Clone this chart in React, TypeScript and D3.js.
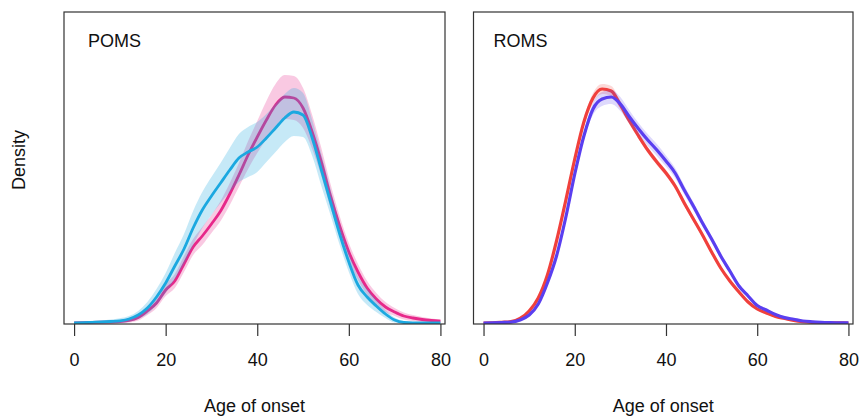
import * as d3 from "d3";
import { useEffect, useRef } from "react";

// age grid (years)
const ages = [0, 2, 4, 6, 8, 10, 12, 14, 16, 18, 20, 22, 24, 26, 28, 30, 32, 34, 36, 38, 40, 42, 44, 46, 48, 50, 52, 54, 56, 58, 60, 62, 64, 66, 68, 70, 72, 74, 76, 78, 80];
const xTicks = [0, 20, 40, 60, 80];

// density values in per mille (density x 1000)
// POMS panel
const pomsPinkMean = [0.02, 0.04, 0.06, 0.08, 0.1, 0.15, 0.25, 0.55, 1.2, 2.0, 3.3, 4.2, 5.9, 7.6, 8.7, 9.9, 11.2, 12.9, 14.8, 16.8, 18.6, 20.3, 21.8, 22.6, 22.5, 21.5, 19.1, 16.1, 12.7, 9.7, 7.1, 5.1, 3.5, 2.4, 1.6, 1.1, 0.7, 0.5, 0.35, 0.25, 0.18];
const pomsPinkUpper = [0.07, 0.09, 0.11, 0.15, 0.2, 0.3, 0.45, 0.85, 1.6, 2.5, 3.9, 4.9, 6.7, 8.4, 9.6, 10.8, 12.2, 14.0, 16.0, 18.2, 20.2, 22.2, 23.9, 24.8, 24.7, 23.5, 20.8, 17.5, 13.9, 10.7, 8.0, 5.9, 4.2, 3.0, 2.1, 1.5, 1.05, 0.8, 0.6, 0.45, 0.38];
const pomsPinkLower = [0, 0, 0.01, 0.01, 0, 0, 0.05, 0.25, 0.8, 1.5, 2.7, 3.5, 5.1, 6.8, 7.8, 9.0, 10.2, 11.8, 13.6, 15.4, 17.0, 18.4, 19.7, 20.4, 20.3, 19.5, 17.4, 14.7, 11.5, 8.7, 6.2, 4.3, 2.8, 1.8, 1.1, 0.7, 0.35, 0.2, 0.1, 0.05, 0];
const pomsBlueMean = [0.02, 0.04, 0.07, 0.1, 0.15, 0.22, 0.4, 0.8, 1.5, 2.6, 4.0, 5.7, 7.4, 9.5, 11.3, 12.7, 14.0, 15.3, 16.5, 17.1, 17.6, 18.5, 19.5, 20.5, 21.1, 20.8, 18.5, 15.3, 12.1, 8.9, 6.1, 3.8, 2.6, 1.7, 0.9, 0.3, 0.05, 0, 0, 0, 0];
const pomsBlueUpper = [0.12, 0.14, 0.22, 0.25, 0.35, 0.47, 0.7, 1.2, 2.1, 3.4, 5.0, 7.0, 8.9, 11.2, 13.1, 14.6, 16.0, 17.5, 18.9, 19.6, 20.1, 20.9, 21.9, 22.9, 23.5, 23.0, 20.3, 16.9, 13.4, 10.0, 7.1, 4.7, 3.4, 2.3, 1.3, 0.55, 0.2, 0.1, 0.05, 0.05, 0.05];
const pomsBlueLower = [0, 0, 0, 0, 0, 0, 0.1, 0.4, 0.9, 1.8, 3.0, 4.4, 5.9, 7.8, 9.5, 10.8, 12.0, 13.1, 14.1, 14.6, 15.1, 16.1, 17.1, 18.1, 18.7, 18.6, 16.7, 13.7, 10.8, 7.8, 5.1, 2.9, 1.8, 1.1, 0.5, 0.05, 0, 0, 0, 0, 0];

// ROMS panel
const romsRedMean = [0, 0.02, 0.07, 0.13, 0.45, 1.2, 2.5, 4.8, 8.2, 12.2, 16.4, 20.1, 22.5, 23.4, 23.2, 21.8, 20.2, 18.7, 17.3, 16.1, 15.0, 13.7, 12.0, 10.4, 8.8, 7.1, 5.5, 4.2, 3.1, 2.1, 1.4, 1.0, 0.65, 0.45, 0.25, 0.13, 0.07, 0.04, 0.02, 0.01, 0];
const romsRedUpper = [0.05, 0.07, 0.12, 0.2, 0.55, 1.35, 2.7, 5.0, 8.45, 12.5, 16.7, 20.5, 23.0, 23.9, 23.7, 22.2, 20.55, 19.0, 17.6, 16.4, 15.3, 14.0, 12.3, 10.7, 9.05, 7.35, 5.7, 4.4, 3.25, 2.25, 1.5, 1.1, 0.75, 0.53, 0.31, 0.18, 0.12, 0.09, 0.07, 0.06, 0.05];
const romsRedLower = [0, 0, 0.02, 0.06, 0.35, 1.05, 2.3, 4.6, 7.95, 11.9, 16.1, 19.7, 22.0, 22.9, 22.7, 21.4, 19.85, 18.4, 17.0, 15.8, 14.7, 13.4, 11.7, 10.1, 8.55, 6.85, 5.3, 4.0, 2.95, 1.95, 1.3, 0.9, 0.55, 0.37, 0.19, 0.08, 0.02, 0, 0, 0, 0];
const romsVioletMean = [0, 0.02, 0.05, 0.09, 0.3, 0.8, 1.9, 4.0, 6.7, 10.5, 14.9, 18.7, 21.4, 22.4, 22.6, 21.9, 20.6, 19.4, 18.3, 17.3, 16.2, 15.0, 13.3, 11.7, 10.0, 8.4, 6.7, 5.2, 3.7, 2.7, 1.75, 1.3, 0.85, 0.54, 0.37, 0.2, 0.12, 0.07, 0.04, 0.02, 0.01];
const romsVioletUpper = [0.05, 0.07, 0.1, 0.16, 0.4, 0.95, 2.1, 4.25, 6.95, 10.8, 15.2, 19.1, 22.0, 23.1, 23.3, 22.6, 21.25, 20.0, 18.9, 17.9, 16.75, 15.5, 13.75, 12.1, 10.35, 8.7, 7.0, 5.45, 3.9, 2.9, 1.9, 1.45, 0.95, 0.64, 0.45, 0.26, 0.17, 0.12, 0.09, 0.07, 0.06];
const romsVioletLower = [0, 0, 0, 0.02, 0.2, 0.65, 1.7, 3.75, 6.45, 10.2, 14.6, 18.3, 20.8, 21.7, 21.9, 21.2, 19.95, 18.8, 17.7, 16.7, 15.65, 14.5, 12.85, 11.3, 9.65, 8.1, 6.4, 4.95, 3.5, 2.5, 1.6, 1.15, 0.75, 0.44, 0.29, 0.14, 0.07, 0.02, 0, 0, 0];

const FONT = "'Liberation Sans', Arial, Helvetica, sans-serif";

const panels = [
  {
    id: "poms",
    title: "POMS",
    left: 64,
    right: 445,
    lineWidth: 2.8,
    series: [
      { mean: pomsPinkMean, upper: pomsPinkUpper, lower: pomsPinkLower, color: "#e7288a", alpha: 0.25 },
      { mean: pomsBlueMean, upper: pomsBlueUpper, lower: pomsBlueLower, color: "#1ba8e0", alpha: 0.25 },
    ],
  },
  {
    id: "roms",
    title: "ROMS",
    left: 473.5,
    right: 853,
    lineWidth: 3.2,
    series: [
      { mean: romsRedMean, upper: romsRedUpper, lower: romsRedLower, color: "#f0403c", alpha: 0.2 },
      { mean: romsVioletMean, upper: romsVioletUpper, lower: romsVioletLower, color: "#5a3ff0", alpha: 0.2 },
    ],
  },
];

const App = () => {
  const svgRef = useRef<SVGSVGElement>(null);

  useEffect(() => {
    const svg = d3.select(svgRef.current);
    svg.selectAll("*").remove();

    const top = 12;
    const bottom = 324;
    const yScale = d3.scaleLinear().domain([0, 31.1]).range([323, top]);

    panels.forEach((p) => {
      const xScale = d3.scaleLinear().domain([-2.2, 81.0]).range([p.left, p.right]);

      const clipId = `clip-${p.id}`;
      svg
        .append("clipPath")
        .attr("id", clipId)
        .append("rect")
        .attr("x", p.left)
        .attr("y", top)
        .attr("width", p.right - p.left)
        .attr("height", bottom - top);

      const g = svg.append("g").attr("clip-path", `url(#${clipId})`);

      p.series.forEach((s) => {
        const band = d3
          .area<number>()
          .x((d) => xScale(d))
          .y0((d, i) => yScale(s.lower[i]))
          .y1((d, i) => yScale(s.upper[i]))
          .curve(d3.curveMonotoneX);
        g.append("path")
          .attr("d", band(ages))
          .attr("fill", s.color)
          .attr("fill-opacity", s.alpha);

        const line = d3
          .line<number>()
          .x((d) => xScale(d))
          .y((d, i) => yScale(s.mean[i]))
          .curve(d3.curveMonotoneX);
        g.append("path")
          .attr("d", line(ages))
          .attr("fill", "none")
          .attr("stroke", s.color)
          .attr("stroke-width", p.lineWidth)
          .attr("stroke-linejoin", "round");
      });

      // box
      svg
        .append("rect")
        .attr("x", p.left)
        .attr("y", top)
        .attr("width", p.right - p.left)
        .attr("height", bottom - top)
        .attr("fill", "none")
        .attr("stroke", "#333")
        .attr("stroke-width", 1.2);

      // x axis
      const axis = svg
        .append("g")
        .attr("transform", `translate(0, ${bottom})`)
        .call(d3.axisBottom(xScale).tickValues(xTicks).tickSize(12).tickPadding(17).tickSizeOuter(0));
      axis.select(".domain").remove();
      axis.selectAll(".tick line").attr("stroke", "#333").attr("stroke-width", 1.2);
      axis
        .selectAll(".tick text")
        .attr("font-family", FONT)
        .attr("font-size", 18)
        .attr("fill", "#111");

      // x label
      svg
        .append("text")
        .attr("x", (p.left + p.right) / 2)
        .attr("y", 412)
        .attr("text-anchor", "middle")
        .attr("font-family", FONT)
        .attr("font-size", 18)
        .attr("fill", "#111")
        .text("Age of onset");

      // panel title
      svg
        .append("text")
        .attr("x", p.left + (p.id === "poms" ? 24 : 20))
        .attr("y", 47)
        .attr("font-family", FONT)
        .attr("font-size", 18)
        .attr("fill", "#111")
        .text(p.title);
    });

    // y label
    svg
      .append("text")
      .attr("transform", "translate(25, 160) rotate(-90)")
      .attr("text-anchor", "middle")
      .attr("font-family", FONT)
      .attr("font-size", 18)
      .attr("fill", "#111")
      .text("Density");
  }, []);

  return (
    <svg
      ref={svgRef}
      width={859}
      height={416}
      style={{ position: "absolute", left: 0, top: 0, background: "#fff" }}
    ></svg>
  );
};

export default App;
